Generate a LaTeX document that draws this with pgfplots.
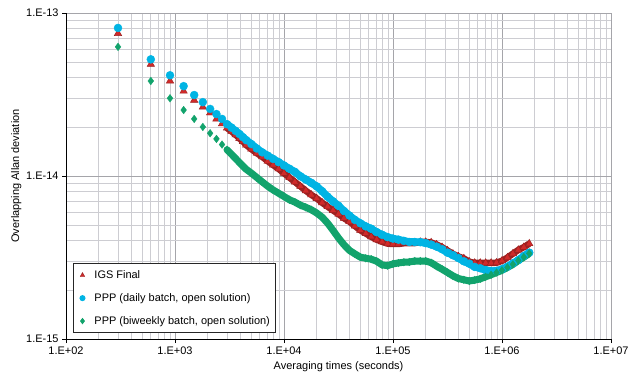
\documentclass[border=0pt]{standalone}
\usepackage{pgfplots}
\pgfplotsset{compat=1.18}
\usepackage{pgfplotstable}
\usepackage{fontspec}
\setmainfont{Liberation Sans}
\definecolor{igsred}{RGB}{208,42,42}
\definecolor{igsdark}{RGB}{150,32,32}
\definecolor{igsband}{RGB}{158,34,34}
\definecolor{pppcyan}{RGB}{0,180,228}
\definecolor{pppgreen}{RGB}{18,163,108}
\definecolor{gridmaj}{RGB}{165,165,170}
\definecolor{gridmin}{RGB}{205,205,210}

\pgfplotstableread{
x y
300 7.5e-14
600 4.85e-14
900 3.83e-14
1200 3.32e-14
1500 2.92e-14
1800 2.65e-14
2100 2.44e-14
2400 2.24e-14
2700 2.09e-14
3000 1.97e-14
3300 1.88e-14
3600 1.79e-14
3900 1.70e-14
4200 1.63e-14
4500 1.55e-14
5012 1.464e-14
5623 1.382e-14
6310 1.312e-14
7079 1.234e-14
7943 1.169e-14
8913 1.107e-14
10000 1.040e-14
11220 9.78e-15
12589 9.20e-15
14125 8.65e-15
15849 8.13e-15
17783 7.67e-15
19953 7.29e-15
22387 6.86e-15
25119 6.49e-15
28184 6.15e-15
31623 5.84e-15
35481 5.51e-15
39811 5.25e-15
44668 4.94e-15
50119 4.65e-15
56234 4.44e-15
63096 4.24e-15
70795 4.07e-15
79433 3.95e-15
89125 3.85e-15
100000 3.83e-15
112202 3.83e-15
125893 3.87e-15
141254 3.88e-15
158489 3.88e-15
177828 3.94e-15
199526 3.94e-15
223872 3.91e-15
251189 3.80e-15
281838 3.66e-15
316228 3.49e-15
354813 3.33e-15
398107 3.21e-15
446684 3.12e-15
501187 2.98e-15
562341 2.93e-15
630957 2.93e-15
707946 2.93e-15
794328 2.93e-15
891251 2.94e-15
1000000 3.02e-15
1122018 3.16e-15
1258925 3.34e-15
1412538 3.52e-15
1584893 3.66e-15
1778279 3.85e-15
}\igs

\pgfplotstableread{
x y
300 8.1e-14
600 5.2e-14
900 4.15e-14
1200 3.56e-14
1500 3.14e-14
1800 2.84e-14
2100 2.58e-14
2400 2.40e-14
2700 2.24e-14
3000 2.08e-14
3300 1.98e-14
3600 1.89e-14
3900 1.81e-14
4200 1.73e-14
4500 1.66e-14
5012 1.571e-14
5623 1.476e-14
6310 1.397e-14
7079 1.334e-14
7943 1.273e-14
8913 1.217e-14
10000 1.161e-14
11220 1.108e-14
12589 1.060e-14
14125 9.97e-15
15849 9.52e-15
17783 9.09e-15
19953 8.64e-15
22387 8.07e-15
25119 7.47e-15
28184 6.99e-15
31623 6.57e-15
35481 6.10e-15
39811 5.72e-15
44668 5.38e-15
50119 5.13e-15
56234 4.91e-15
63096 4.75e-15
70795 4.53e-15
79433 4.36e-15
89125 4.22e-15
100000 4.13e-15
112202 4.07e-15
125893 4.00e-15
141254 3.94e-15
158489 3.94e-15
177828 3.93e-15
199526 3.88e-15
223872 3.80e-15
251189 3.69e-15
281838 3.56e-15
316228 3.39e-15
354813 3.27e-15
398107 3.14e-15
446684 3.00e-15
501187 2.90e-15
562341 2.77e-15
630957 2.72e-15
707946 2.65e-15
794328 2.61e-15
891251 2.62e-15
1000000 2.68e-15
1122018 2.78e-15
1258925 2.91e-15
1412538 3.05e-15
1584893 3.23e-15
1778279 3.39e-15
}\daily

\pgfplotstableread{
x y
300 6.2e-14
600 3.83e-14
900 3.0e-14
1200 2.54e-14
1500 2.24e-14
1800 2.0e-14
2100 1.83e-14
2400 1.69e-14
2700 1.56e-14
3000 1.45e-14
3300 1.36e-14
3600 1.28e-14
3900 1.21e-14
4200 1.15e-14
4500 1.10e-14
5012 1.043e-14
5623 9.80e-15
6310 9.21e-15
7079 8.67e-15
7943 8.22e-15
8913 7.85e-15
10000 7.49e-15
11220 7.15e-15
12589 6.92e-15
14125 6.63e-15
15849 6.43e-15
17783 6.21e-15
19953 5.93e-15
22387 5.59e-15
25119 5.14e-15
28184 4.64e-15
31623 4.17e-15
35481 3.79e-15
39811 3.50e-15
44668 3.33e-15
50119 3.18e-15
56234 3.13e-15
63096 3.09e-15
70795 3.00e-15
79433 2.85e-15
89125 2.82e-15
100000 2.89e-15
112202 2.93e-15
125893 2.96e-15
141254 2.97e-15
158489 3.01e-15
177828 3.01e-15
199526 3.01e-15
223872 2.94e-15
251189 2.80e-15
281838 2.68e-15
316228 2.56e-15
354813 2.44e-15
398107 2.35e-15
446684 2.31e-15
501187 2.27e-15
562341 2.30e-15
630957 2.34e-15
707946 2.41e-15
794328 2.48e-15
891251 2.56e-15
1000000 2.64e-15
1122018 2.75e-15
1258925 2.87e-15
1412538 3.03e-15
1584893 3.18e-15
1778279 3.35e-15
}\biweekly

\begin{document}
\begin{tikzpicture}
\useasboundingbox (-66bp,-36bp) rectangle (562bp,339bp);
\begin{axis}[
  at={(0,0)}, anchor=south west,
  scale only axis, width=545bp, height=326bp,
  xmode=log, ymode=log,
  xmin=1e2, xmax=1e7, ymin=1e-15, ymax=1e-13,
  axis x line*=bottom, axis y line*=left,
  axis line style={black, line width=0.8pt, -},
  xtick={1e2,1e3,1e4,1e5,1e6,1e7},
  xticklabels={1.E+02,1.E+03,1.E+04,1.E+05,1.E+06,1.E+07},
  minor xtick={200,300,400,500,600,700,800,900,2000,3000,4000,5000,6000,7000,8000,9000,20000,30000,40000,50000,60000,70000,80000,90000,200000,300000,400000,500000,600000,700000,800000,900000,2000000,3000000,4000000,5000000,6000000,7000000,8000000,9000000},
  ytick={1e-15,1e-14,1e-13},
  yticklabels={1.E-15,1.E-14,1.E-13},
  minor ytick={2e-15,3e-15,4e-15,5e-15,6e-15,7e-15,8e-15,9e-15,2e-14,3e-14,4e-14,5e-14,6e-14,7e-14,8e-14,9e-14},
  tick label style={font=\fontsize{11}{13}\selectfont},
  tick align=outside, major tick length=4bp, minor tick length=0pt,
  tick style={black, line width=0.8pt},
  grid=both,
  major grid style={gridmaj, line width=0.9pt},
  minor grid style={gridmin, line width=0.9pt},
  xlabel={Averaging times (seconds)},
  ylabel={Overlapping Allan deviation},
  label style={font=\fontsize{11}{13}\selectfont},
  ylabel style={yshift=-2bp},
  legend style={at={(0.013,0.018)}, anchor=south west, draw=black!85, line width=0.8pt,
    fill=white, font=\fontsize{11}{13}\selectfont, row sep=9.5bp, inner xsep=3bp, inner ysep=5bp},
  legend cell align=left,
  legend image code/.code={\path[draw=none,fill=none] (0bp,-1bp) rectangle (16bp,1bp);\draw[mark repeat=2,mark phase=2,#1,mark size=2.6bp] plot coordinates {(0bp,0bp)(6bp,0bp)(12bp,0bp)};},
]
% IGS Final
\addplot[igsband, line width=6.5bp, line join=round, forget plot, skip coords between index={0}{9}] table {\igs};
\addplot[only marks, mark=triangle*, mark size=4.3bp, mark options={fill=igsred, draw=igsdark, line width=0.4pt}] table {\igs};
\addlegendentry{IGS Final}
% PPP daily
\addplot[pppcyan, line width=7.5bp, line join=round, line cap=round, forget plot, skip coords between index={0}{9}] table {\daily};
\addplot[only marks, mark=*, mark size=4bp, mark options={fill=pppcyan, draw=pppcyan}] table {\daily};
\addlegendentry{PPP (daily batch, open solution)}
% PPP biweekly
\addplot[pppgreen, line width=7bp, line join=round, line cap=round, forget plot, skip coords between index={0}{9}] table {\biweekly};
\addplot[only marks, mark=diamond*, mark size=3.8bp, mark options={fill=pppgreen, draw=pppgreen}] table {\biweekly};
\addlegendentry{PPP (biweekly batch, open solution)}
\end{axis}
\end{tikzpicture}
\end{document}
